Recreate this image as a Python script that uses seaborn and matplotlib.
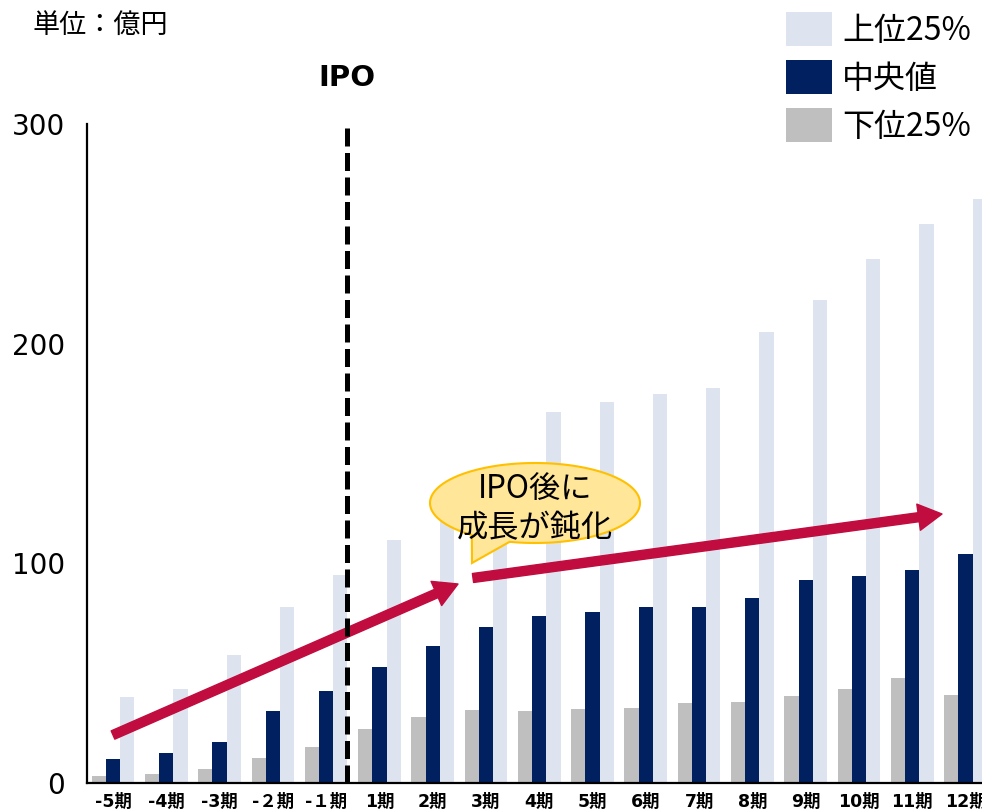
import numpy as np
import pandas as pd
import seaborn as sns
import matplotlib.pyplot as plt
from matplotlib.patches import Patch, PathPatch, FancyArrowPatch, ArrowStyle
from matplotlib.path import Path
from matplotlib.transforms import Affine2D

W, H = 982, 811

# ---------------------------------------------------------------
# data (億円)
# ---------------------------------------------------------------
periods = ["-5期", "-4期", "-3期", "-２期", "-１期",
           "1期", "2期", "3期", "4期", "5期", "6期",
           "7期", "8期", "9期", "10期", "11期", "12期"]
upper25 = [39.2, 42.6, 58.2, 79.9, 94.7, 110.5, 124, 132, 169, 173.6,
           177.3, 180, 205.5, 220, 238.6, 254.5, 266]
median = [10.9, 13.8, 18.6, 33, 41.8, 52.7, 62.4, 70.8, 75.8, 78,
          80.3, 80, 84.2, 92.4, 94.1, 96.8, 104.2]
lower25 = [3.3, 3.9, 6.2, 11.4, 16.4, 24.5, 29.9, 33.2, 32.6, 33.6,
           34.2, 36.2, 36.8, 39.7, 42.9, 47.9, 40.1]
yticks = [0, 100, 200, 300]

series_order = ["下位25%", "中央値", "上位25%"]
legend_order = ["上位25%", "中央値", "下位25%"]
palette = {"下位25%": "#BFBFBF", "中央値": "#002060", "上位25%": "#DEE4EF"}
arrow_red = "#C00C3E"
cjk = ["Noto Sans CJK JP", "DejaVu Sans"]

df = pd.DataFrame({
    "period": periods,
    "上位25%": upper25,
    "中央値": median,
    "下位25%": lower25,
}).melt(id_vars="period", var_name="series", value_name="value")

sns.set_theme(style="white")
plt.rcParams["font.family"] = ["DejaVu Sans", "Noto Sans CJK JP"]
plt.rcParams["text.color"] = "black"
plt.rcParams["xtick.color"] = "black"
plt.rcParams["ytick.color"] = "black"

fig = plt.figure(figsize=(W / 100, H / 100), dpi=100)
ax = fig.add_axes([87 / W, 1 - 783 / H, 1 - 87 / W, (783 - 124) / H])

# pixel coords (origin top-left) -> figure
px = Affine2D().scale(1 / W, -1 / H).translate(0, 1) + fig.transFigure

sns.barplot(
    data=df,
    x="period",
    y="value",
    hue="series",
    order=periods,
    hue_order=series_order,
    palette=palette,
    width=0.8,
    gap=0,
    saturation=1,
    linewidth=0,
    errorbar=None,
    legend=False,
    ax=ax,
)

ax.set_xlim(-0.488, 16.31)
ax.set_ylim(0, 300)
ax.set_yticks(yticks)
ax.set_xlabel("")
ax.set_ylabel("")
ax.tick_params(axis="y", length=0, pad=16, labelsize=20, labelcolor="black")
ax.tick_params(axis="x", length=0, pad=7, labelsize=12.5, labelcolor="black")
for lab in ax.get_xticklabels():
    lab.set_fontweight("bold")
for s in ["top", "right"]:
    ax.spines[s].set_visible(False)
for s in ["left", "bottom"]:
    ax.spines[s].set_color("black")
    ax.spines[s].set_linewidth(1.6)

# IPO line
ax.axvline(4.4, color="black", lw=3.6, linestyle=(0, (3.6, 1.3)), zorder=4)
fig.text(347 / W, 1 - 78 / H, "IPO", ha="center", va="center",
         fontsize=21, fontweight="bold")

# unit label
fig.text(32 / W, 1 - 25 / H, "単位：億円", ha="left", va="center",
         fontsize=19.5, family=cjk)

# growth arrows
style = ArrowStyle.Simple(head_length=1.7, head_width=1.9, tail_width=0.65)
for a, b in [((113, 735), (458, 584)), ((473, 578), (942, 514))]:
    arr = FancyArrowPatch(a, b, transform=px, arrowstyle=style, mutation_scale=10,
                          color=arrow_red, shrinkA=0, shrinkB=0, zorder=3,
                          clip_on=False)
    ax.add_patch(arr)

# speech bubble
cx, cy, rx, ry = 535, 503, 105, 40
t = np.radians(np.linspace(127, 464, 200))
verts = list(zip(cx + rx * np.cos(t), cy + ry * np.sin(t)))
verts += [(472, 563), verts[0]]
codes = [Path.MOVETO] + [Path.LINETO] * (len(verts) - 2) + [Path.CLOSEPOLY]
bubble = PathPatch(Path(verts, codes), transform=px, facecolor="#FFE699",
                   edgecolor="#FFC000", lw=1.5, zorder=5)
fig.add_artist(bubble)
fig.text(535 / W, 1 - 489 / H, "IPO後に", ha="center", va="center",
         fontsize=22.5, zorder=6, family=cjk)
fig.text(535 / W, 1 - 528 / H, "成長が鈍化", ha="center", va="center",
         fontsize=22.5, zorder=6, family=cjk)

# legend
handles = [Patch(facecolor=palette[k], edgecolor="none") for k in legend_order]
fig.legend(handles, legend_order, loc="upper left",
           bbox_to_anchor=(786 / W, 1 - 12 / H), frameon=False,
           borderpad=0, borderaxespad=0,
           handlelength=1.44, handleheight=1.26, handletextpad=0.31,
           labelspacing=0.42,
           prop={"family": cjk, "size": 23})

fig.savefig("out.png", dpi=100)
